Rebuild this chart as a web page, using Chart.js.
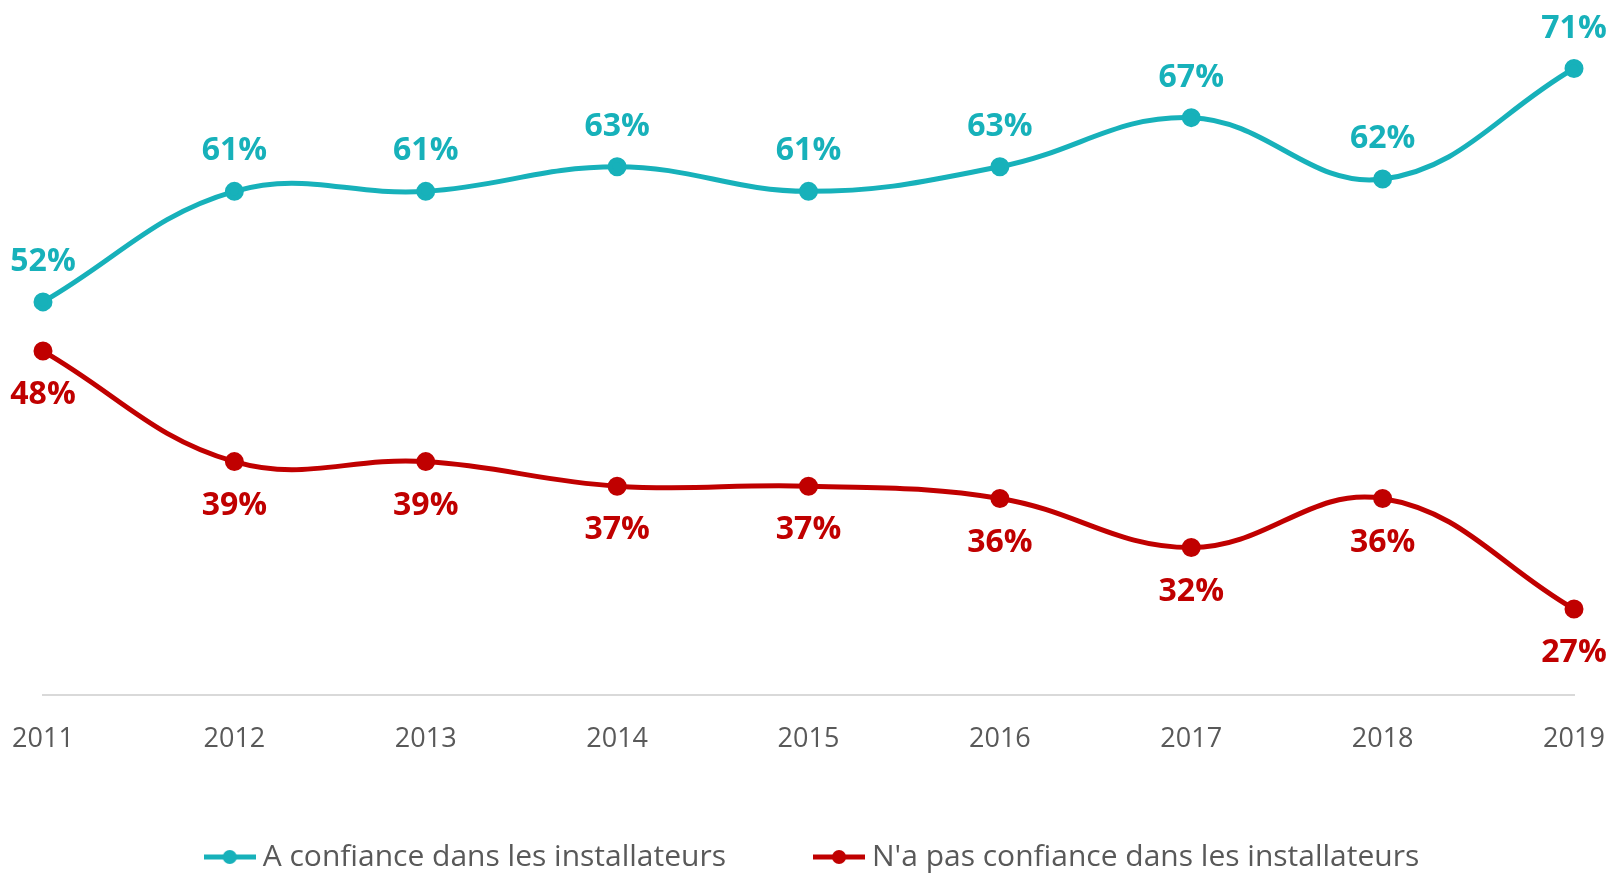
<!DOCTYPE html>
<html>
<head>
<meta charset="utf-8">
<script src="https://cdn.jsdelivr.net/npm/chart.js@4/dist/chart.umd.min.js"></script>
<style>
  html, body { margin: 0; padding: 0; background: #fff; overflow: hidden; }
  #wrap { width: 1610px; height: 882px; }
</style>
</head>
<body>
<div id="wrap"><canvas id="chart"></canvas></div>
<script>
// données
const annees = ['2011', '2012', '2013', '2014', '2015', '2016', '2017', '2018', '2019'];
const confiance = [52, 61, 61, 63, 61, 63, 67, 62, 71];
const pasConfiance = [48, 39, 39, 37, 37, 36, 32, 36, 27];

const TEAL = '#17B1BA';
const ROUGE = '#C00000';

// petite image ligne + point pour la légende
function legendIcon(color) {
    const c = document.createElement('canvas');
    c.width = 52; c.height = 16;
    const g = c.getContext('2d');
    g.strokeStyle = color; g.lineWidth = 5;
    g.beginPath(); g.moveTo(0, 8); g.lineTo(52, 8); g.stroke();
    g.fillStyle = color;
    g.beginPath(); g.arc(26, 8, 7, 0, Math.PI * 2); g.fill();
    return c;
}

// étiquettes de valeurs
const etiquettes = {
    id: 'etiquettes',
    afterDatasetsDraw(chart) {
        const ctx = chart.ctx;
        ctx.save();
        ctx.font = 'bold 32px "Open Sans"';
        ctx.textAlign = 'center';
        ctx.textBaseline = 'middle';
        chart.data.datasets.forEach((ds, i) => {
            const meta = chart.getDatasetMeta(i);
            ctx.fillStyle = ds.borderColor;
            meta.data.forEach((pt, j) => {
                const dy = i === 0 ? -40 : 44;
                const x = Math.min(pt.x, chart.width - 34);
                ctx.fillText(ds.data[j] + '%', x, pt.y + dy);
            });
        });
        ctx.restore();
    }
};

new Chart(document.getElementById('chart'), {
    type: 'line',
    data: {
        labels: annees,
        datasets: [{
            label: 'A confiance dans les installateurs',
            data: confiance,
            borderColor: TEAL,
            backgroundColor: TEAL,
            borderWidth: 5,
            pointRadius: 7,
            tension: 0.4
        }, {
            label: "N'a pas confiance dans les installateurs",
            data: pasConfiance,
            borderColor: ROUGE,
            backgroundColor: ROUGE,
            borderWidth: 5,
            pointRadius: 7,
            tension: 0.4
        }]
    },
    options: {
        responsive: true,
        maintainAspectRatio: false,
        animation: false,
        layout: { padding: { left: 21, right: 0, top: 0, bottom: 0 } },
        scales: {
            x: {
                offset: false,
                grid: { display: false, drawTicks: false },
                border: { display: true, color: '#d9d9d9', width: 2 },
                ticks: { color: '#595959', font: { family: 'Open Sans', size: 27 }, padding: 28 },
                afterFit(scale) {
                    scale.paddingLeft = 43;
                    scale.paddingRight = 36;
                    scale.height = 52;
                }
            },
            y: {
                display: false,
                min: 20,
                max: 75.6
            }
        },
        plugins: {
            legend: {
                position: 'bottom',
                labels: {
                    usePointStyle: true,
                    pointStyleWidth: 36,
                    color: '#595959',
                    font: { family: 'Open Sans', size: 30 },
                    padding: 95,
                    generateLabels(chart) {
                        return chart.data.datasets.map((ds, i) => ({
                            text: ds.label,
                            fillStyle: ds.borderColor,
                            strokeStyle: ds.borderColor,
                            fontColor: '#595959',
                            pointStyle: legendIcon(ds.borderColor),
                            datasetIndex: i,
                            hidden: false
                        }));
                    }
                }
            },
            tooltip: { enabled: false }
        }
    },
    plugins: [etiquettes]
});
</script>
</body>
</html>
